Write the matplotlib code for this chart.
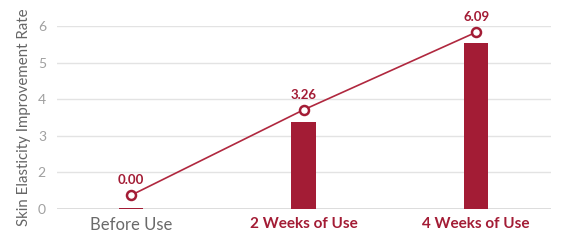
import numpy as np
import matplotlib
matplotlib.use("Agg")
import matplotlib.pyplot as plt

# data (in tick-label units; the axis skips "1")
categories = ["Before Use", "2 Weeks of Use", "4 Weeks of Use"]
bar_values = [0.06, 3.39, 5.53]
line_values = [0.75, 3.71, 5.83]
value_labels = ["0.00", "3.26", "6.09"]
y_ticks = [0, 2, 3, 4, 5, 6]

RED = "#A31C35"
LINE_RED = "#B0283F"
GRID = "#E3E3E3"
TICK = "#A0A0A0"

plt.rcParams["font.family"] = ["Lato", "DejaVu Sans"]

# piecewise axis: 0..2 takes one step, then one step per unit
def fwd(v):
    return np.interp(v, [0, 2, 10], [0, 1, 9])

def inv(v):
    return np.interp(v, [0, 1, 9], [0, 2, 10])

fig = plt.figure(figsize=(5.77, 2.41), dpi=100)
ax = fig.add_axes([0.0988, 0.1328, 0.8564, 0.7592])
ax.set_yscale("function", functions=(fwd, inv))

x = np.arange(len(categories))
ax.bar(x, bar_values, width=0.14, color=RED, zorder=2)
ax.plot(x, line_values, color=LINE_RED, lw=1.2, zorder=3, clip_on=False)
ax.scatter(x, line_values, s=42, facecolor="white", edgecolor=RED,
           linewidths=1.8, zorder=4, clip_on=False)
for xi, yi, lab in zip(x, line_values, value_labels):
    ax.annotate(lab, (xi, yi), xytext=(0, 6.5), textcoords="offset points",
                ha="center", va="bottom", fontsize=9.5, fontweight="bold",
                color=RED, annotation_clip=False)

ax.set_ylim(0, 6)
ax.set_xlim(-0.429, 2.435)
ax.set_yticks(y_ticks)
ax.set_yticklabels([str(t) for t in y_ticks])
ax.set_xticks(x)
ax.set_xticklabels(categories)
ax.grid(axis="y", color=GRID, lw=1.0, zorder=0)
ax.set_axisbelow(True)
ax.tick_params(axis="y", length=0, pad=8, labelsize=10, labelcolor=TICK)
ax.tick_params(axis="x", length=0, pad=6, labelsize=12)
for i, t in enumerate(ax.get_xticklabels()):
    if i == 0:
        t.set_color("#6A6A6A")
    else:
        t.set_color(RED)
        t.set_fontweight("bold")
        t.set_fontsize(11)
for s in ax.spines.values():
    s.set_visible(False)
ax.axhline(0, color="#D8D8D8", lw=1.2, zorder=1)

ax.set_ylabel("Skin Elasticity Improvement Rate", fontsize=10.8, color="#666666", labelpad=5)

fig.savefig("out.png", dpi=100)
